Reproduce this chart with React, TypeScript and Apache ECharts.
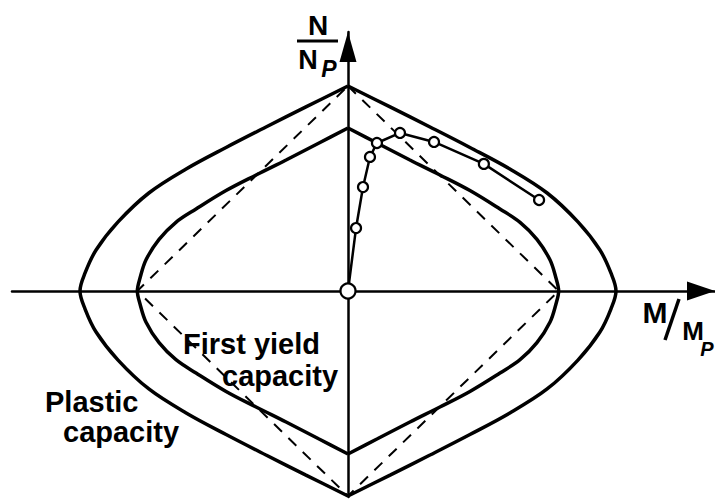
import React, { useEffect, useRef } from "react";
import * as echarts from "echarts";

// Interaction diagram: axial force N/Np against bending moment M/Mp.

// Plastic capacity curve, right half (top apex -> bottom apex) [M/Mp, N/Np]
const plasticRight: [number, number][] = [
  [0, 1.0], [0.157, 0.898], [0.306, 0.8], [0.455, 0.7], [0.604, 0.595],
  [0.743, 0.478], [0.858, 0.337], [0.94, 0.2], [0.981, 0.088], [1.0, 0],
  [0.981, -0.088], [0.94, -0.2], [0.858, -0.337], [0.743, -0.478], [0.604, -0.595],
  [0.455, -0.7], [0.306, -0.8], [0.157, -0.898], [0, -1.0],
];
// Plastic capacity curve, left half
const plasticLeft: [number, number][] = [
  [0, 1.0], [-0.157, 0.898], [-0.306, 0.8], [-0.455, 0.7], [-0.604, 0.595],
  [-0.743, 0.478], [-0.858, 0.337], [-0.94, 0.2], [-0.981, 0.088], [-1.0, 0],
  [-0.981, -0.088], [-0.94, -0.2], [-0.858, -0.337], [-0.743, -0.478], [-0.604, -0.595],
  [-0.455, -0.7], [-0.306, -0.8], [-0.157, -0.898], [0, -1.0],
];

// First yield capacity curve, right half
const yieldRight: [number, number][] = [
  [0, 0.795], [0.108, 0.722], [0.231, 0.639], [0.343, 0.566], [0.455, 0.49],
  [0.567, 0.4], [0.642, 0.335], [0.705, 0.252], [0.754, 0.151], [0.776, 0.063], [0.786, 0],
  [0.776, -0.063], [0.754, -0.151], [0.705, -0.252], [0.642, -0.335], [0.567, -0.4],
  [0.455, -0.49], [0.343, -0.566], [0.231, -0.639], [0.108, -0.722], [0, -0.795],
];
// First yield capacity curve, left half
const yieldLeft: [number, number][] = [
  [0, 0.795], [-0.108, 0.722], [-0.231, 0.639], [-0.343, 0.566], [-0.455, 0.49],
  [-0.567, 0.4], [-0.642, 0.335], [-0.705, 0.252], [-0.754, 0.151], [-0.776, 0.063], [-0.786, 0],
  [-0.776, -0.063], [-0.754, -0.151], [-0.705, -0.252], [-0.642, -0.335], [-0.567, -0.4],
  [-0.455, -0.49], [-0.343, -0.566], [-0.231, -0.639], [-0.108, -0.722], [0, -0.795],
];

// Linear interaction (dashed diamond)
const linearBound: [number, number][] = [
  [0, 1.0], [0.786, 0], [0, -1.0], [-0.786, 0], [0, 1.0],
];

// Measured load path
const testPath: [number, number][] = [
  [0, 0], [0.03, 0.307], [0.056, 0.507], [0.082, 0.654], [0.108, 0.722],
  [0.194, 0.771], [0.321, 0.727], [0.507, 0.62], [0.713, 0.444],
];

// Axis extents
const xRange: [number, number] = [-1.2537, 1.3694];
const yRange: [number, number] = [-1.0049, 1.2634];

const FONT = "'Liberation Sans', Arial, Helvetica, sans-serif";

function curve(data: [number, number][], width: number) {
  return {
    type: "line",
    data,
    smooth: 0.35,
    symbol: "none",
    clip: false,
    lineStyle: { color: "#000", width },
    z: 3,
  };
}

function label(text: string, x: number, y: number, size: number, align = "left", italic = false) {
  return {
    type: "text",
    x,
    y,
    style: {
      text,
      fill: "#000",
      fontFamily: FONT,
      fontSize: size,
      fontWeight: "bold",
      fontStyle: italic ? "italic" : "normal",
      align,
      verticalAlign: "middle",
    },
    z: 10,
  };
}

export default function App() {
  const ref = useRef<HTMLDivElement>(null);

  useEffect(() => {
    document.body.style.margin = "0";
    if (!ref.current) return;
    const chart = echarts.init(ref.current, null, { renderer: "svg" });

    const axisLine = (size: [number, number]) => ({
      show: true,
      onZero: true,
      lineStyle: { color: "#000", width: 2.5 },
      symbol: ["none", "triangle"],
      symbolSize: size,
      symbolOffset: [0, -size[1] / 2],
    });

    chart.setOption({
      animation: false,
      backgroundColor: "#fff",
      grid: { left: 12, right: 0, top: 32, bottom: 4, containLabel: false },
      xAxis: {
        type: "value",
        min: xRange[0],
        max: xRange[1],
        axisLine: axisLine([19, 28]),
        axisTick: { show: false },
        axisLabel: { show: false },
        splitLine: { show: false },
      },
      yAxis: {
        type: "value",
        min: yRange[0],
        max: yRange[1],
        axisLine: axisLine([17, 30]),
        axisTick: { show: false },
        axisLabel: { show: false },
        splitLine: { show: false },
      },
      series: [
        curve(plasticRight, 3.5),
        curve(plasticLeft, 3.5),
        curve(yieldRight, 3.5),
        curve(yieldLeft, 3.5),
        {
          type: "line",
          data: linearBound,
          symbol: "none",
          clip: false,
          lineStyle: { color: "#000", width: 2, type: [11, 9] },
          z: 2,
        },
        {
          type: "line",
          data: testPath.map((p, i) => (i === 0 ? { value: p, symbolSize: 15 } : p)),
          symbol: "circle",
          symbolSize: 10,
          showSymbol: true,
          clip: false,
          lineStyle: { color: "#000", width: 2.5 },
          itemStyle: { color: "#fff", borderColor: "#000", borderWidth: 2.2 },
          z: 5,
        },
      ],
      graphic: [
        // N / N_P
        label("N", 318, 25, 28, "center"),
        {
          type: "line",
          shape: { x1: 297, y1: 41, x2: 338, y2: 41 },
          style: { stroke: "#000", lineWidth: 3 },
          z: 10,
        },
        label("N", 308, 60, 27, "center"),
        label("P", 329, 69, 23, "center", true),
        // M / M_P
        label("M", 655, 312, 30, "center"),
        {
          type: "line",
          shape: { x1: 665, y1: 340, x2: 679, y2: 299 },
          style: { stroke: "#000", lineWidth: 3.5 },
          z: 10,
        },
        label("M", 693, 331, 26, "center"),
        label("P", 707, 349, 20, "center", true),
        // curve captions
        label("First yield", 183, 344, 29),
        label("capacity", 222, 376, 29),
        label("Plastic", 45, 402, 29),
        label("capacity", 63, 432, 29),
      ],
    });

    return () => chart.dispose();
  }, []);

  return <div ref={ref} style={{ width: 715, height: 501 }} />;
}
